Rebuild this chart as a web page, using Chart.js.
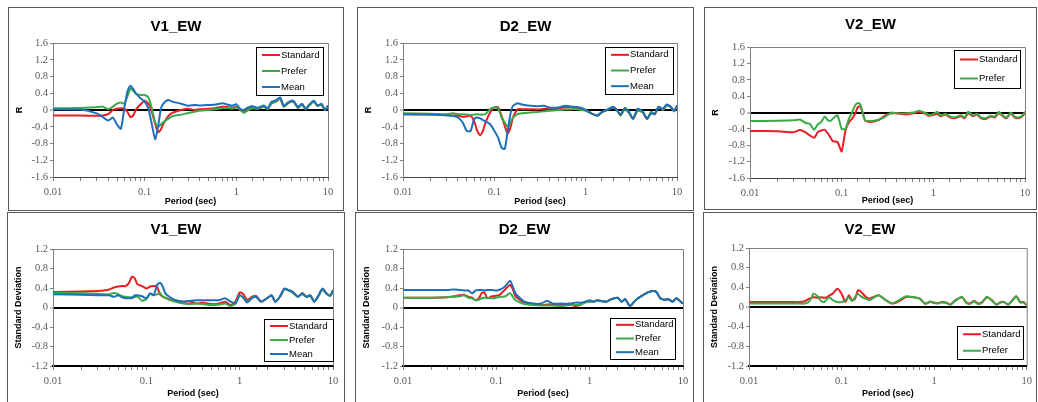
<!DOCTYPE html>
<html>
<head>
<meta charset="utf-8">
<script src="https://cdn.jsdelivr.net/npm/chart.js@4/dist/chart.umd.min.js"></script>
<style>
  body { margin: 0; background: #fff; width: 1038px; height: 402px; overflow: hidden; position: relative; }
  canvas { position: absolute; }
</style>
</head>
<body>
<canvas id="c1" width="336" height="204" style="left:8px;top:7px"></canvas>
<canvas id="c2" width="337" height="204" style="left:357px;top:7px"></canvas>
<canvas id="c3" width="333" height="203" style="left:704px;top:7px"></canvas>
<canvas id="c4" width="338" height="195" style="left:7px;top:212px"></canvas>
<canvas id="c5" width="339" height="195" style="left:355px;top:212px"></canvas>
<canvas id="c6" width="334" height="195" style="left:703px;top:212px"></canvas>
<script>
// period grid (sec), shared by every series
const periods = [0.01, 0.02, 0.03, 0.035, 0.04, 0.045, 0.05, 0.055, 0.06, 0.065,
  0.07, 0.075, 0.08, 0.09, 0.1, 0.11, 0.12, 0.13, 0.14, 0.15,
  0.16, 0.18, 0.2, 0.25, 0.3, 0.35, 0.4, 0.5, 0.6, 0.7,
  0.8, 0.9, 1.0, 1.1, 1.2, 1.35, 1.5, 1.7, 2.0, 2.2,
  2.4, 2.7, 3.0, 3.3, 3.7, 4.2, 4.7, 5.2, 5.7, 6.3,
  7.0, 7.7, 8.5, 9.3, 10];
const xTickLabels = ['0.01', '0.1', '1', '10'];
const seriesNames = ['Standard', 'Prefer', 'Mean'];

// ---- R (top row)
const v1R_standard = [-0.13, -0.13, -0.14, -0.13, -0.10, 0.00, 0.03, 0.04, 0.03, -0.05,
  -0.17, -0.13, 0.00, 0.13, 0.22, 0.15, -0.05, -0.33, -0.53, -0.47,
  -0.33, -0.15, -0.07, 0.00, 0.03, 0.00, 0.02, 0.03, 0.05, 0.08,
  0.07, 0.05, 0.08, 0.00, -0.05, 0.03, 0.05, 0.03, 0.08, 0.03,
  0.15, 0.20, 0.27, 0.08, 0.17, 0.20, 0.05, 0.14, 0.02, 0.12,
  0.20, 0.10, 0.13, 0.00, 0.10];
const v1R_prefer = [0.04, 0.05, 0.07, 0.08, 0.02, 0.08, 0.15, 0.18, 0.15, 0.33,
  0.51, 0.46, 0.39, 0.36, 0.36, 0.30, 0.03, -0.29, -0.41, -0.35,
  -0.29, -0.21, -0.15, -0.11, -0.07, -0.04, -0.02, 0.00, 0.02, 0.04,
  0.05, 0.03, 0.06, 0.02, -0.07, 0.00, 0.04, 0.03, 0.08, 0.02,
  0.15, 0.20, 0.28, 0.08, 0.17, 0.20, 0.05, 0.14, 0.02, 0.12,
  0.20, 0.10, 0.13, 0.00, 0.10];
const v1R_mean = [0.02, 0.01, -0.08, -0.17, -0.25, -0.18, -0.35, -0.45, 0.05, 0.45,
  0.58, 0.50, 0.40, 0.28, 0.20, 0.02, -0.35, -0.70, -0.40, 0.02,
  0.15, 0.24, 0.20, 0.15, 0.10, 0.12, 0.11, 0.12, 0.13, 0.16,
  0.13, 0.10, 0.14, 0.03, 0.00, 0.06, 0.09, 0.05, 0.11, 0.04,
  0.19, 0.23, 0.30, 0.10, 0.19, 0.22, 0.07, 0.15, 0.03, 0.14,
  0.22, 0.10, 0.15, 0.00, 0.11];

const d2R_standard = [-0.10, -0.11, -0.12, -0.13, -0.14, -0.16, -0.15, -0.14, -0.26, -0.50,
  -0.60, -0.50, -0.30, -0.06, 0.06, 0.07, -0.14, -0.38, -0.56, -0.42,
  -0.18, 0.02, 0.02, 0.02, 0.01, 0.03, 0.03, 0.04, 0.06, 0.07,
  0.05, 0.03, 0.00, -0.05, -0.10, -0.13, -0.05, 0.00, 0.06, 0.00,
  -0.13, 0.03, -0.08, -0.21, -0.02, -0.05, -0.21, -0.05, -0.10, 0.08,
  0.00, 0.11, 0.08, -0.03, 0.10];
const d2R_prefer = [-0.08, -0.09, -0.10, -0.08, -0.10, -0.10, -0.11, -0.12, -0.11, -0.10,
  -0.11, -0.11, -0.10, 0.02, 0.06, 0.04, -0.18, -0.30, -0.40, -0.30,
  -0.18, -0.10, -0.08, -0.06, -0.05, -0.03, -0.02, 0.00, 0.01, 0.02,
  0.02, 0.00, -0.02, -0.06, -0.10, -0.14, -0.06, 0.00, 0.06, 0.00,
  -0.13, 0.03, -0.08, -0.21, -0.02, -0.05, -0.21, -0.05, -0.10, 0.08,
  0.00, 0.11, 0.08, -0.03, 0.10];
const d2R_mean = [-0.10, -0.11, -0.13, -0.14, -0.18, -0.30, -0.50, -0.50, -0.22, -0.18,
  -0.20, -0.24, -0.27, -0.34, -0.50, -0.66, -0.90, -0.93, -0.50, -0.10,
  0.10, 0.16, 0.13, 0.10, 0.09, 0.10, 0.06, 0.06, 0.10, 0.08,
  0.07, 0.05, 0.00, -0.05, -0.10, -0.13, -0.05, 0.00, 0.08, 0.00,
  -0.11, 0.05, -0.05, -0.21, 0.03, -0.03, -0.21, -0.08, -0.10, 0.07,
  0.03, 0.13, 0.08, -0.02, 0.10];

const v2R_standard = [-0.45, -0.46, -0.48, -0.43, -0.48, -0.56, -0.62, -0.48, -0.44, -0.42,
  -0.50, -0.60, -0.70, -0.72, -0.95, -0.44, -0.24, -0.15, -0.03, 0.13,
  0.15, -0.19, -0.23, -0.19, -0.07, -0.02, -0.02, -0.05, -0.02, 0.02,
  -0.02, -0.08, -0.06, -0.03, -0.09, -0.05, -0.11, -0.14, -0.09, -0.14,
  -0.02, -0.09, -0.05, -0.14, -0.16, -0.10, -0.12, -0.01, -0.09, -0.14,
  -0.02, -0.12, -0.14, -0.10, -0.01];
const v2R_prefer = [-0.21, -0.20, -0.19, -0.17, -0.25, -0.28, -0.42, -0.29, -0.23, -0.10,
  -0.18, -0.21, -0.15, -0.07, -0.40, -0.40, -0.15, 0.00, 0.17, 0.23,
  0.20, -0.20, -0.21, -0.18, -0.10, 0.00, -0.02, -0.02, 0.00, 0.04,
  0.00, -0.06, -0.04, 0.02, -0.07, -0.03, -0.09, -0.12, -0.07, -0.12,
  0.02, -0.07, -0.03, -0.12, -0.14, -0.08, -0.10, 0.02, -0.07, -0.12,
  0.00, -0.10, -0.12, -0.08, 0.02];

// ---- standard deviation (bottom row)
const v1S_standard = [0.32, 0.33, 0.34, 0.35, 0.37, 0.41, 0.43, 0.44, 0.44, 0.50,
  0.63, 0.60, 0.48, 0.44, 0.39, 0.43, 0.44, 0.43, 0.27, 0.22,
  0.20, 0.16, 0.14, 0.12, 0.12, 0.08, 0.10, 0.07, 0.08, 0.12,
  0.05, 0.12, 0.31, 0.27, 0.15, 0.22, 0.24, 0.12, 0.20, 0.25,
  0.12, 0.22, 0.38, 0.36, 0.32, 0.22, 0.29, 0.22, 0.25, 0.12,
  0.24, 0.38, 0.29, 0.24, 0.34];
const v1S_prefer = [0.30, 0.29, 0.28, 0.27, 0.27, 0.30, 0.27, 0.23, 0.22, 0.21,
  0.21, 0.21, 0.23, 0.14, 0.17, 0.29, 0.25, 0.27, 0.30, 0.22,
  0.20, 0.15, 0.12, 0.08, 0.07, 0.08, 0.07, 0.05, 0.06, 0.08,
  0.03, 0.08, 0.25, 0.20, 0.12, 0.20, 0.22, 0.12, 0.20, 0.25,
  0.12, 0.22, 0.37, 0.35, 0.30, 0.22, 0.27, 0.22, 0.24, 0.12,
  0.24, 0.37, 0.28, 0.24, 0.33];
const v1S_mean = [0.27, 0.26, 0.25, 0.25, 0.25, 0.22, 0.25, 0.21, 0.19, 0.19,
  0.19, 0.25, 0.25, 0.23, 0.19, 0.29, 0.25, 0.46, 0.51, 0.43,
  0.29, 0.21, 0.16, 0.12, 0.14, 0.15, 0.15, 0.15, 0.15, 0.19,
  0.12, 0.08, 0.25, 0.20, 0.10, 0.19, 0.22, 0.12, 0.20, 0.25,
  0.12, 0.22, 0.39, 0.36, 0.32, 0.22, 0.29, 0.22, 0.25, 0.12,
  0.25, 0.39, 0.29, 0.24, 0.36];

const d2S_standard = [0.20, 0.20, 0.21, 0.23, 0.25, 0.26, 0.22, 0.20, 0.15, 0.19,
  0.30, 0.30, 0.19, 0.23, 0.24, 0.27, 0.34, 0.41, 0.46, 0.38,
  0.23, 0.15, 0.10, 0.07, 0.05, 0.06, 0.07, 0.06, 0.08, 0.03,
  0.06, 0.12, 0.13, 0.12, 0.15, 0.13, 0.12, 0.17, 0.20, 0.12,
  0.17, 0.03, 0.12, 0.19, 0.25, 0.31, 0.34, 0.32, 0.19, 0.16,
  0.17, 0.12, 0.19, 0.13, 0.08];
const d2S_prefer = [0.20, 0.20, 0.21, 0.22, 0.23, 0.25, 0.20, 0.19, 0.15, 0.16,
  0.19, 0.20, 0.20, 0.19, 0.20, 0.22, 0.22, 0.25, 0.30, 0.22,
  0.15, 0.10, 0.07, 0.05, 0.04, 0.04, 0.04, 0.03, 0.05, 0.05,
  0.06, 0.10, 0.12, 0.12, 0.14, 0.13, 0.12, 0.17, 0.20, 0.12,
  0.17, 0.03, 0.12, 0.19, 0.25, 0.31, 0.34, 0.32, 0.19, 0.16,
  0.17, 0.12, 0.19, 0.13, 0.08];
const d2S_mean = [0.36, 0.36, 0.36, 0.37, 0.36, 0.35, 0.35, 0.29, 0.35, 0.36,
  0.36, 0.35, 0.36, 0.36, 0.35, 0.37, 0.41, 0.48, 0.55, 0.43,
  0.29, 0.19, 0.12, 0.08, 0.08, 0.14, 0.08, 0.08, 0.07, 0.10,
  0.10, 0.12, 0.15, 0.12, 0.15, 0.13, 0.12, 0.17, 0.20, 0.12,
  0.17, 0.03, 0.12, 0.19, 0.25, 0.31, 0.34, 0.32, 0.19, 0.16,
  0.17, 0.12, 0.19, 0.13, 0.08];

const v2S_standard = [0.10, 0.10, 0.10, 0.10, 0.12, 0.17, 0.20, 0.19, 0.20, 0.19,
  0.20, 0.24, 0.27, 0.37, 0.27, 0.10, 0.24, 0.14, 0.17, 0.34,
  0.32, 0.22, 0.17, 0.24, 0.14, 0.07, 0.10, 0.20, 0.20, 0.17,
  0.07, 0.10, 0.09, 0.08, 0.10, 0.09, 0.05, 0.14, 0.20, 0.10,
  0.07, 0.12, 0.07, 0.10, 0.20, 0.14, 0.05, 0.10, 0.10, 0.05,
  0.14, 0.22, 0.10, 0.10, 0.03];
const v2S_prefer = [0.07, 0.07, 0.07, 0.07, 0.07, 0.12, 0.27, 0.22, 0.12, 0.10,
  0.17, 0.19, 0.14, 0.10, 0.10, 0.14, 0.20, 0.12, 0.20, 0.27,
  0.22, 0.17, 0.14, 0.24, 0.14, 0.07, 0.12, 0.22, 0.20, 0.17,
  0.06, 0.11, 0.08, 0.07, 0.09, 0.08, 0.05, 0.13, 0.21, 0.09,
  0.06, 0.11, 0.06, 0.09, 0.21, 0.13, 0.05, 0.09, 0.10, 0.05,
  0.13, 0.22, 0.09, 0.09, 0.04];

const colors = ['#ED1C24', '#3AAA48', '#1E70B8'];

// draws panel frame, plot box, titles and the inset legend
const panelDecor = {
  id: 'panelDecor',
  afterDraw(chart, args, opts) {
    const {ctx, chartArea: a, width, height} = chart;
    ctx.save();
    ctx.strokeStyle = '#595959';
    ctx.lineWidth = 1;
    ctx.strokeRect(0.5, 0.5, width - 1, height - 1);

    ctx.strokeStyle = '#7f7f7f';
    ctx.beginPath();
    ctx.moveTo(a.left, a.top + 0.5);
    ctx.lineTo(a.right + 0.5, a.top + 0.5);
    ctx.lineTo(a.right + 0.5, a.bottom);
    ctx.stroke();

    ctx.fillStyle = '#000';
    ctx.textAlign = 'center';
    ctx.textBaseline = 'middle';
    ctx.font = 'bold 15px "Liberation Sans", Arial, sans-serif';
    ctx.fillText(opts.title, width / 2, opts.titleY);

    ctx.font = 'bold 9px "Liberation Sans", Arial, sans-serif';
    ctx.fillText('Period (sec)', (a.left + a.right) / 2, opts.xTitleY);
    ctx.save();
    ctx.translate(opts.yTitleX, (a.top + a.bottom) / 2);
    ctx.rotate(-Math.PI / 2);
    ctx.fillText(opts.yTitle, 0, 0);
    ctx.restore();

    // legend box
    const L = opts.legend;
    const ds = chart.data.datasets;
    ctx.fillStyle = '#fff';
    ctx.fillRect(L.x, L.y, L.w, L.h);
    ctx.strokeStyle = '#000';
    ctx.strokeRect(L.x + 0.5, L.y + 0.5, L.w, L.h);
    ctx.font = '9.5px "Liberation Sans", Arial, sans-serif';
    ctx.textAlign = 'left';
    ds.forEach((d, i) => {
      const y = L.y + L.h * (i + 0.5) / ds.length;
      ctx.strokeStyle = d.borderColor;
      ctx.lineWidth = 2;
      ctx.beginPath();
      ctx.moveTo(L.x + 6, y);
      ctx.lineTo(L.x + 24, y);
      ctx.stroke();
      ctx.fillStyle = '#000';
      ctx.fillText(d.label, L.x + 25, y);
    });
    ctx.restore();
  }
};

function makePanel(id, title, yTitle, yMax, series, box) {
  const datasets = series.map((vals, i) => ({
    label: seriesNames[i],
    data: periods.map((p, k) => ({x: p, y: vals[k]})),
    borderColor: colors[i],
    backgroundColor: colors[i],
    borderWidth: 2,
    pointRadius: 0,
    tension: 0.2,
    order: series.length - i   // later series drawn on top
  }));
  const canvas = document.getElementById(id);
  return new Chart(canvas, {
    type: 'line',
    data: {datasets: datasets},
    plugins: [panelDecor],
    options: {
      responsive: false,
      animation: false,
      devicePixelRatio: 1,
      layout: {padding: {left: 0, top: box.top, right: canvas.width - box.right, bottom: 0}},
      plugins: {
        legend: {display: false},
        tooltip: {enabled: false},
        panelDecor: {
          title: title, yTitle: yTitle,
          titleY: box.titleY, xTitleY: box.xTitleY, yTitleX: box.yTitleX,
          legend: box.legend
        }
      },
      scales: {
        x: {
          type: 'logarithmic',
          min: 0.01,
          max: 10,
          afterFit: (s) => { s.height = canvas.height - box.bottom; },
          border: {color: box.xAxisColor, width: box.xAxisWidth},
          grid: {drawOnChartArea: false, drawTicks: true, tickLength: 4, tickColor: '#7f7f7f'},
          ticks: {
            autoSkip: false,
            maxRotation: 0,
            padding: 5,
            color: '#595959',
            font: {family: '"Liberation Serif", "Times New Roman", serif', size: 10.5},
            callback: (v) => {
              const lg = Math.log10(v);
              if (Math.abs(lg - Math.round(lg)) > 1e-6) return '';
              return xTickLabels[Math.round(lg) + 2];
            }
          }
        },
        y: {
          min: -yMax,
          max: yMax,
          afterFit: (s) => { s.width = box.left; },
          border: {color: '#7f7f7f', width: 1},
          grid: {
            color: (c) => (Math.abs(c.tick.value) < 1e-9 ? '#000' : 'rgba(0,0,0,0)'),
            lineWidth: (c) => (Math.abs(c.tick.value) < 1e-9 ? 2 : 1),
            tickColor: '#7f7f7f',
            tickWidth: 1,
            tickLength: 3
          },
          ticks: {
            stepSize: 0.2,
            padding: 2,
            color: '#595959',
            font: {family: '"Liberation Serif", "Times New Roman", serif', size: 10.5},
            callback: (v) => {
              const k = v / 0.4;
              if (Math.abs(k - Math.round(k)) > 1e-6) return '';
              return Math.abs(v) < 1e-9 ? '0' : v.toFixed(1);
            }
          }
        }
      }
    }
  });
}

makePanel('c1', 'V1_EW', 'R', 1.6, [v1R_standard, v1R_prefer, v1R_mean],
  {left: 45, right: 320, top: 36, bottom: 170, titleY: 20, xTitleY: 195, yTitleX: 12,
   xAxisColor: '#404040', xAxisWidth: 1, legend: {x: 248, y: 40, w: 67, h: 48}});
makePanel('c2', 'D2_EW', 'R', 1.6, [d2R_standard, d2R_prefer, d2R_mean],
  {left: 46, right: 320, top: 36, bottom: 170, titleY: 20, xTitleY: 195, yTitleX: 12,
   xAxisColor: '#404040', xAxisWidth: 1, legend: {x: 248, y: 40, w: 68, h: 47}});
makePanel('c3', 'V2_EW', 'R', 1.6, [v2R_standard, v2R_prefer],
  {left: 46, right: 321, top: 40, bottom: 171, titleY: 18, xTitleY: 194, yTitleX: 12,
   xAxisColor: '#404040', xAxisWidth: 1, legend: {x: 250, y: 43, w: 66, h: 38}});
makePanel('c4', 'V1_EW', 'Standard Deviation', 1.2, [v1S_standard, v1S_prefer, v1S_mean],
  {left: 46, right: 326, top: 37, bottom: 154, titleY: 18, xTitleY: 182, yTitleX: 12,
   xAxisColor: '#000', xAxisWidth: 2, legend: {x: 257, y: 107, w: 69, h: 42}});
makePanel('c5', 'D2_EW', 'Standard Deviation', 1.2, [d2S_standard, d2S_prefer, d2S_mean],
  {left: 48, right: 328, top: 37, bottom: 154, titleY: 18, xTitleY: 182, yTitleX: 12,
   xAxisColor: '#000', xAxisWidth: 2, legend: {x: 255, y: 106, w: 65, h: 41}});
makePanel('c6', 'V2_EW', 'Standard Deviation', 1.2, [v2S_standard, v2S_prefer],
  {left: 46, right: 325, top: 36, bottom: 154, titleY: 18, xTitleY: 182, yTitleX: 12,
   xAxisColor: '#000', xAxisWidth: 2, legend: {x: 254, y: 114, w: 66, h: 33}});
</script>
</body>
</html>
